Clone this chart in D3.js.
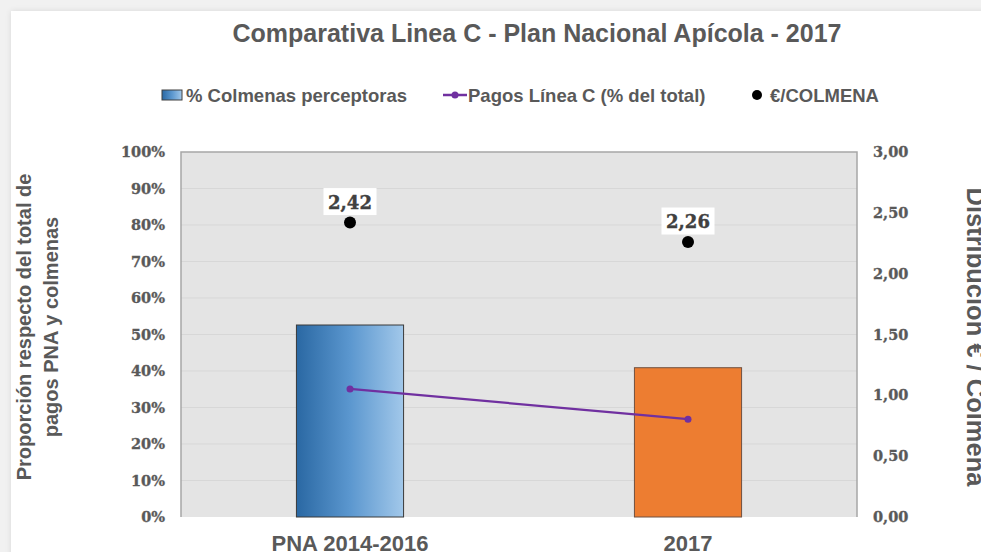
<!DOCTYPE html>
<html>
<head>
<meta charset="utf-8">
<script src="https://cdn.jsdelivr.net/npm/d3@7"></script>
<style>
  html, body { margin: 0; padding: 0; background: #f1f1f1; overflow: hidden; }
  #card { position: absolute; left: 11px; top: 11px; width: 990px; height: 560px; background: #fff;
          box-shadow: 0 0 6px rgba(0,0,0,0.10); }
  svg { position: absolute; left: 0; top: 0; }
</style>
</head>
<body>
<div id="card"></div>
<svg id="chart" width="981" height="552"></svg>
<script>
// ---- data ----
const categories = ["PNA 2014-2016", "2017"];
const colmenasPct = [0.526, 0.409];          // % Colmenas perceptoras (bars, left axis)
const pagosPct = [0.351, 0.268];             // Pagos Línea C (% del total) (line, left axis)
const euroColmena = [2.42, 2.26];            // €/COLMENA (dots, right axis)
const euroLabels = ["2,42", "2,26"];
const leftTicks = [0, 0.1, 0.2, 0.3, 0.4, 0.5, 0.6, 0.7, 0.8, 0.9, 1.0];
const leftTickLabels = ["0%", "10%", "20%", "30%", "40%", "50%", "60%", "70%", "80%", "90%", "100%"];
const rightTicks = [0, 0.5, 1.0, 1.5, 2.0, 2.5, 3.0];
const rightTickLabels = ["0,00", "0,50", "1,00", "1,50", "2,00", "2,50", "3,00"];
const titleText = "Comparativa Linea C - Plan Nacional Apícola - 2017";
const legendLabels = ["% Colmenas perceptoras", "Pagos Línea C (% del total)", "€/COLMENA"];
const leftTitle = ["Proporción respecto del total de", "pagos PNA y colmenas"];
const rightTitle = "Distribución € / Colmena";

// ---- layout ----
const plot = { left: 181, right: 857, top: 152, bottom: 517 };
const textGray = "#595959";
const sansBold = "'Liberation Sans', Arial, sans-serif";
const serifBold = "'DejaVu Serif', serif";

const svg = d3.select("#chart");

const x = d3.scaleBand().domain(categories).range([plot.left, plot.right]).padding(0);
const y = d3.scaleLinear().domain([0, 1]).range([plot.bottom, plot.top]);
const y2 = d3.scaleLinear().domain([0, 3]).range([plot.bottom, plot.top]);

// gradient for blue bar
const defs = svg.append("defs");
const grad = defs.append("linearGradient").attr("id", "blueGrad")
  .attr("x1", "0%").attr("x2", "100%").attr("y1", "0%").attr("y2", "0%");
grad.append("stop").attr("offset", "0%").attr("stop-color", "#2a68a3");
grad.append("stop").attr("offset", "50%").attr("stop-color", "#5b97cf");
grad.append("stop").attr("offset", "100%").attr("stop-color", "#a2c8ea");

// plot background
svg.append("rect")
  .attr("x", plot.left).attr("y", plot.top)
  .attr("width", plot.right - plot.left).attr("height", plot.bottom - plot.top)
  .attr("fill", "#e4e4e4");

// gridlines
svg.append("g").selectAll("line").data(leftTicks.slice(1, -1)).join("line")
  .attr("x1", plot.left).attr("x2", plot.right)
  .attr("y1", d => y(d)).attr("y2", d => y(d))
  .attr("stroke", "#d7d7d7").attr("stroke-width", 1);

// plot border (left, top, right)
svg.append("path")
  .attr("d", `M${plot.left},${plot.bottom}V${plot.top}H${plot.right}V${plot.bottom}`)
  .attr("fill", "none").attr("stroke", "#a6a6a6").attr("stroke-width", 1.5);

// title
svg.append("text")
  .attr("x", 537).attr("y", 42)
  .attr("text-anchor", "middle")
  .attr("font-family", sansBold).attr("font-weight", "bold").attr("font-size", 25)
  .attr("fill", textGray)
  .text(titleText);

// legend
const lg = svg.append("g").attr("font-family", sansBold).attr("font-weight", "bold")
  .attr("font-size", 18.5).attr("fill", textGray);
lg.append("rect").attr("x", 162).attr("y", 90).attr("width", 20).attr("height", 10)
  .attr("fill", "url(#blueGrad)").attr("stroke", "#404040").attr("stroke-width", 1);
lg.append("text").attr("x", 186).attr("y", 102).text(legendLabels[0]);
lg.append("line").attr("x1", 443).attr("x2", 467).attr("y1", 95).attr("y2", 95)
  .attr("stroke", "#7030a0").attr("stroke-width", 2.5);
lg.append("circle").attr("cx", 455).attr("cy", 95).attr("r", 3.5).attr("fill", "#7030a0");
lg.append("text").attr("x", 468).attr("y", 102).text(legendLabels[1]);
lg.append("circle").attr("cx", 757).attr("cy", 95).attr("r", 5).attr("fill", "#000");
lg.append("text").attr("x", 770).attr("y", 102).text(legendLabels[2]);

// left axis
const leftAxis = svg.append("g").attr("transform", `translate(${plot.left},0)`)
  .call(d3.axisLeft(y).tickValues(leftTicks).tickSize(0).tickPadding(16)
    .tickFormat((d, i) => leftTickLabels[i]));
leftAxis.select(".domain").remove();
leftAxis.selectAll("text").attr("font-family", serifBold).attr("font-weight", "bold")
  .attr("font-size", 14.5).attr("fill", textGray)
  .attr("stroke", textGray).attr("stroke-width", 0.35);

// right axis
const rightAxis = svg.append("g").attr("transform", `translate(${plot.right},0)`)
  .call(d3.axisRight(y2).tickValues(rightTicks).tickSize(0).tickPadding(16)
    .tickFormat((d, i) => rightTickLabels[i]));
rightAxis.select(".domain").remove();
rightAxis.selectAll("text").attr("font-family", serifBold).attr("font-weight", "bold")
  .attr("font-size", 14.5).attr("fill", textGray)
  .attr("stroke", textGray).attr("stroke-width", 0.35);

// bottom axis
const bottomAxis = svg.append("g").attr("transform", `translate(0,${plot.bottom})`)
  .call(d3.axisBottom(x).tickSize(0).tickPadding(18.5));
bottomAxis.select(".domain").remove();
bottomAxis.selectAll("text").attr("font-family", sansBold).attr("font-weight", "bold")
  .attr("font-size", 22).attr("fill", textGray);

// axis titles
const lt = svg.append("text")
  .attr("transform", `translate(0,327) rotate(-90)`)
  .attr("text-anchor", "middle")
  .attr("font-family", sansBold).attr("font-weight", "bold").attr("font-size", 20)
  .attr("fill", textGray);
lt.append("tspan").attr("x", 0).attr("y", 31).text(leftTitle[0]);
lt.append("tspan").attr("x", 0).attr("y", 58).text(leftTitle[1]);

svg.append("text")
  .attr("transform", `translate(967,337) rotate(90)`)
  .attr("text-anchor", "middle")
  .attr("font-family", sansBold).attr("font-weight", "bold").attr("font-size", 25.5)
  .attr("fill", textGray)
  .text(rightTitle);

// bars
const barW = x.bandwidth() * 0.317;
const barColors = ["url(#blueGrad)", "#ed7d31"];
const barStroke = ["#3a3a3a", "#6f5040"];
svg.append("g").selectAll("rect").data(categories).join("rect")
  .attr("x", d => x(d) + x.bandwidth() / 2 - barW / 2)
  .attr("y", (d, i) => y(colmenasPct[i]))
  .attr("width", barW)
  .attr("height", (d, i) => y(0) - y(colmenasPct[i]))
  .attr("fill", (d, i) => barColors[i])
  .attr("stroke", (d, i) => barStroke[i]).attr("stroke-width", 1);

// line
const cx = d => x(d) + x.bandwidth() / 2;
svg.append("path")
  .datum(categories)
  .attr("d", d3.line().x(d => cx(d)).y((d, i) => y(pagosPct[i])))
  .attr("fill", "none").attr("stroke", "#7030a0").attr("stroke-width", 2.2);
svg.append("g").selectAll("circle").data(categories).join("circle")
  .attr("cx", d => cx(d)).attr("cy", (d, i) => y(pagosPct[i])).attr("r", 3.5)
  .attr("fill", "#7030a0");

// €/colmena dots
svg.append("g").selectAll("circle").data(categories).join("circle")
  .attr("cx", d => cx(d)).attr("cy", (d, i) => y2(euroColmena[i])).attr("r", 6)
  .attr("fill", "#000");

// data labels with white box
const lab = svg.append("g").selectAll("g").data(categories).join("g")
  .attr("transform", (d, i) => `translate(${cx(d)},${y2(euroColmena[i]) - 21})`);
lab.append("rect").attr("x", -26.5).attr("y", -13.5).attr("width", 53).attr("height", 27)
  .attr("fill", "#fff");
lab.append("text").attr("text-anchor", "middle").attr("y", 7)
  .attr("font-family", serifBold).attr("font-weight", "bold").attr("font-size", 18)
  .attr("fill", "#404040").attr("stroke", "#404040").attr("stroke-width", 0.4)
  .text((d, i) => euroLabels[i]);
</script>
</body>
</html>
